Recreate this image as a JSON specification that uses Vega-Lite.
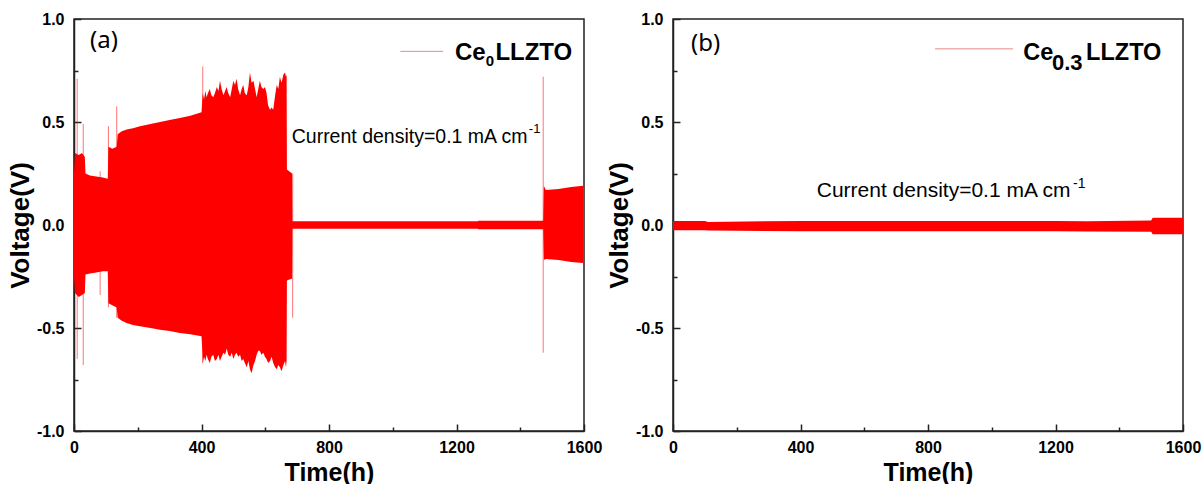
{
  "$schema": "https://vega.github.io/schema/vega-lite/v6.json",
  "background": "white",
  "padding": {"left": 6, "top": 10, "right": 2, "bottom": 0},
  "spacing": 89,
  "bounds": "flush",
  "config": {
    "view": {"stroke": "#222", "strokeWidth": 1.5},
    "axis": {"domainColor": "#222", "domainWidth": 1.5, "tickColor": "#222", "tickWidth": 1.5, "tickSize": -7, "labelFont": "Liberation Sans", "labelFontWeight": "bold", "labelFontSize": 16, "labelColor": "#000", "titleFont": "Liberation Sans", "titleFontWeight": "bold", "titleColor": "#000", "grid": false, "labelFlush": false, "labelOverlap": false},
    "text": {"font": "Liberation Sans", "color": "#000"}
  },
  "hconcat": [
    {
      "width": 510,
      "height": 412,
      "layer": [
        {
          "data": {"values": [
            {"t": 0, "hi": 0.25, "lo": -0.25}, {"t": 3, "hi": 0.35, "lo": -0.33}, {"t": 15, "hi": 0.34, "lo": -0.35}, {"t": 25, "hi": 0.35, "lo": -0.34}, {"t": 34, "hi": 0.33, "lo": -0.33},
            {"t": 36, "hi": 0.25, "lo": -0.24}, {"t": 50, "hi": 0.24, "lo": -0.235}, {"t": 70, "hi": 0.235, "lo": -0.23}, {"t": 90, "hi": 0.23, "lo": -0.225}, {"t": 106, "hi": 0.225, "lo": -0.225},
            {"t": 108, "hi": 0.38, "lo": -0.38}, {"t": 120, "hi": 0.37, "lo": -0.39}, {"t": 134, "hi": 0.38, "lo": -0.40}, {"t": 137, "hi": 0.44, "lo": -0.45}, {"t": 150, "hi": 0.455, "lo": -0.465},
            {"t": 165, "hi": 0.463, "lo": -0.476}, {"t": 185, "hi": 0.47, "lo": -0.485}, {"t": 207, "hi": 0.479, "lo": -0.492}, {"t": 240, "hi": 0.49, "lo": -0.5}, {"t": 270, "hi": 0.5, "lo": -0.508},
            {"t": 300, "hi": 0.51, "lo": -0.515}, {"t": 332, "hi": 0.519, "lo": -0.524}, {"t": 365, "hi": 0.53, "lo": -0.53}, {"t": 400, "hi": 0.547, "lo": -0.54}, {"t": 403, "hi": 0.62, "lo": -0.62},
            {"t": 404, "hi": 0.64, "lo": -0.67}, {"t": 408, "hi": 0.61, "lo": -0.64}, {"t": 412, "hi": 0.65, "lo": -0.66}, {"t": 416, "hi": 0.62, "lo": -0.63}, {"t": 420, "hi": 0.64, "lo": -0.65},
            {"t": 426, "hi": 0.66, "lo": -0.67}, {"t": 431, "hi": 0.63, "lo": -0.64}, {"t": 437, "hi": 0.62, "lo": -0.63}, {"t": 442, "hi": 0.64, "lo": -0.66}, {"t": 448, "hi": 0.67, "lo": -0.65},
            {"t": 453, "hi": 0.65, "lo": -0.63}, {"t": 458, "hi": 0.70, "lo": -0.66}, {"t": 463, "hi": 0.66, "lo": -0.64}, {"t": 469, "hi": 0.63, "lo": -0.62}, {"t": 474, "hi": 0.65, "lo": -0.63},
            {"t": 479, "hi": 0.67, "lo": -0.60}, {"t": 484, "hi": 0.64, "lo": -0.63}, {"t": 490, "hi": 0.62, "lo": -0.64}, {"t": 495, "hi": 0.66, "lo": -0.62}, {"t": 500, "hi": 0.70, "lo": -0.65},
            {"t": 505, "hi": 0.68, "lo": -0.63}, {"t": 510, "hi": 0.71, "lo": -0.62}, {"t": 515, "hi": 0.66, "lo": -0.64}, {"t": 521, "hi": 0.63, "lo": -0.63}, {"t": 526, "hi": 0.66, "lo": -0.66},
            {"t": 531, "hi": 0.68, "lo": -0.65}, {"t": 536, "hi": 0.64, "lo": -0.67}, {"t": 542, "hi": 0.63, "lo": -0.69}, {"t": 547, "hi": 0.67, "lo": -0.66}, {"t": 552, "hi": 0.74, "lo": -0.70},
            {"t": 557, "hi": 0.69, "lo": -0.72}, {"t": 563, "hi": 0.70, "lo": -0.68}, {"t": 568, "hi": 0.66, "lo": -0.66}, {"t": 573, "hi": 0.62, "lo": -0.63}, {"t": 578, "hi": 0.66, "lo": -0.61},
            {"t": 583, "hi": 0.70, "lo": -0.61}, {"t": 588, "hi": 0.67, "lo": -0.63}, {"t": 594, "hi": 0.66, "lo": -0.62}, {"t": 599, "hi": 0.67, "lo": -0.64}, {"t": 604, "hi": 0.64, "lo": -0.65},
            {"t": 609, "hi": 0.58, "lo": -0.67}, {"t": 615, "hi": 0.56, "lo": -0.66}, {"t": 620, "hi": 0.57, "lo": -0.64}, {"t": 625, "hi": 0.56, "lo": -0.67}, {"t": 631, "hi": 0.63, "lo": -0.69},
            {"t": 636, "hi": 0.68, "lo": -0.70}, {"t": 641, "hi": 0.66, "lo": -0.68}, {"t": 646, "hi": 0.72, "lo": -0.69}, {"t": 651, "hi": 0.69, "lo": -0.71}, {"t": 657, "hi": 0.73, "lo": -0.68},
            {"t": 662, "hi": 0.74, "lo": -0.66}, {"t": 665, "hi": 0.72, "lo": -0.69}, {"t": 667, "hi": 0.73, "lo": -0.66}, {"t": 668, "hi": 0.27, "lo": -0.27}, {"t": 684, "hi": 0.25, "lo": -0.26},
            {"t": 685, "hi": 0.018, "lo": -0.018}, {"t": 1267, "hi": 0.018, "lo": -0.018}, {"t": 1268, "hi": 0.021, "lo": -0.021}, {"t": 1472, "hi": 0.021, "lo": -0.021},
            {"t": 1474, "hi": 0.19, "lo": -0.17}, {"t": 1480, "hi": 0.17, "lo": -0.165}, {"t": 1520, "hi": 0.175, "lo": -0.17}, {"t": 1560, "hi": 0.185, "lo": -0.18}, {"t": 1597, "hi": 0.19, "lo": -0.185}
          ]},
          "mark": {"type": "area", "color": "#ff0000"},
          "encoding": {
            "x": {"field": "t", "type": "quantitative", "scale": {"domain": [0, 1600], "nice": false, "zero": false},
              "axis": {"title": "Time(h)", "values": [0, 200, 400, 600, 800, 1000, 1200, 1400, 1600],
                "labelExpr": "datum.value % 400 == 0 ? format(datum.value, 'd') : ''",
                "tickDash": {"condition": {"test": "datum.value % 400 != 0", "value": [4, 20]}, "value": [10, 0]},
                "labelPadding": 15, "titleFontSize": 25, "titlePadding": 5}},
            "y": {"field": "hi", "type": "quantitative", "scale": {"domain": [-1, 1], "nice": false, "zero": false},
              "axis": {"title": "Voltage(V)", "values": [-1, -0.75, -0.5, -0.25, 0, 0.25, 0.5, 0.75, 1],
                "labelExpr": "abs(datum.value * 2 - round(datum.value * 2)) > 0.01 ? '' : (datum.value < 0 ? '-' + format(-datum.value, '.1f') : format(datum.value, '.1f'))",
                "tickDash": {"condition": {"test": "abs(datum.value * 2 - round(datum.value * 2)) > 0.01", "value": [4, 20]}, "value": [10, 0]},
                "labelPadding": 17, "titleFontSize": 26, "titlePadding": 3}},
            "y2": {"field": "lo"}
          }
        },
        {
          "data": {"values": [
            {"t": 10, "top": 0.71, "bot": -0.65}, {"t": 29, "top": 0.49, "bot": -0.68}, {"t": 82, "top": 0.26, "bot": -0.34},
            {"t": 108, "top": 0.48, "bot": -0.40}, {"t": 134, "top": 0.576, "bot": -0.45}, {"t": 404, "top": 0.77, "bot": -0.67},
            {"t": 686, "top": 0.25, "bot": -0.45}, {"t": 1472, "top": 0.72, "bot": -0.62}
          ]},
          "mark": {"type": "rule", "color": "#ff0000", "opacity": 0.55, "strokeWidth": 1},
          "encoding": {
            "x": {"field": "t", "type": "quantitative"},
            "y": {"field": "top", "type": "quantitative"},
            "y2": {"field": "bot"}
          }
        },
        {
          "data": {"values": [{"t": 1024, "v": 0.843}, {"t": 1158, "v": 0.843}]},
          "mark": {"type": "line", "color": "#e58a8a", "strokeWidth": 1},
          "encoding": {
            "x": {"field": "t", "type": "quantitative"},
            "y": {"field": "v", "type": "quantitative"}
          }
        },
        {
          "data": {"values": [{"t": 94, "v": 0.893, "label": "(a)"}]},
          "mark": {"type": "text", "font": "Noto Sans", "fontSize": 24, "align": "center", "baseline": "middle"},
          "encoding": {
            "x": {"field": "t", "type": "quantitative"},
            "y": {"field": "v", "type": "quantitative"},
            "text": {"field": "label"}
          }
        },
        {
          "data": {"values": [{"t": 1195, "v": 0.801, "label": "Ce"}, {"t": 1322, "v": 0.801, "label": "LLZTO"}]},
          "mark": {"type": "text", "fontSize": 24, "fontWeight": "bold", "align": "left", "baseline": "alphabetic"},
          "encoding": {
            "x": {"field": "t", "type": "quantitative"},
            "y": {"field": "v", "type": "quantitative"},
            "text": {"field": "label"}
          }
        },
        {
          "data": {"values": [{"t": 1292, "v": 0.772, "label": "0"}]},
          "mark": {"type": "text", "fontSize": 15, "fontWeight": "bold", "align": "left", "baseline": "alphabetic"},
          "encoding": {
            "x": {"field": "t", "type": "quantitative"},
            "y": {"field": "v", "type": "quantitative"},
            "text": {"field": "label"}
          }
        },
        {
          "data": {"values": [{"t": 683, "v": 0.398, "label": "Current density=0.1 mA cm"}]},
          "mark": {"type": "text", "fontSize": 19.5, "align": "left", "baseline": "alphabetic"},
          "encoding": {
            "x": {"field": "t", "type": "quantitative"},
            "y": {"field": "v", "type": "quantitative"},
            "text": {"field": "label"}
          }
        },
        {
          "data": {"values": [{"t": 1427, "v": 0.447, "label": "-1"}]},
          "mark": {"type": "text", "fontSize": 13, "align": "left", "baseline": "alphabetic"},
          "encoding": {
            "x": {"field": "t", "type": "quantitative"},
            "y": {"field": "v", "type": "quantitative"},
            "text": {"field": "label"}
          }
        }
      ]
    },
    {
      "width": 510,
      "height": 412,
      "layer": [
        {
          "data": {"values": [
            {"t": 0, "hi": 0.02, "lo": -0.025}, {"t": 100, "hi": 0.02, "lo": -0.025}, {"t": 110, "hi": 0.015, "lo": -0.027},
            {"t": 400, "hi": 0.02, "lo": -0.03}, {"t": 800, "hi": 0.02, "lo": -0.03}, {"t": 1200, "hi": 0.02, "lo": -0.03},
            {"t": 1300, "hi": 0.018, "lo": -0.032}, {"t": 1500, "hi": 0.022, "lo": -0.033}, {"t": 1505, "hi": 0.035, "lo": -0.045}, {"t": 1600, "hi": 0.035, "lo": -0.045}
          ]},
          "mark": {"type": "area", "color": "#ff0000"},
          "encoding": {
            "x": {"field": "t", "type": "quantitative", "scale": {"domain": [0, 1600], "nice": false, "zero": false},
              "axis": {"title": "Time(h)", "values": [0, 200, 400, 600, 800, 1000, 1200, 1400, 1600],
                "labelExpr": "datum.value % 400 == 0 ? format(datum.value, 'd') : ''",
                "tickDash": {"condition": {"test": "datum.value % 400 != 0", "value": [4, 20]}, "value": [10, 0]},
                "labelPadding": 15, "titleFontSize": 25, "titlePadding": 5}},
            "y": {"field": "hi", "type": "quantitative", "scale": {"domain": [-1, 1], "nice": false, "zero": false},
              "axis": {"title": "Voltage(V)", "values": [-1, -0.75, -0.5, -0.25, 0, 0.25, 0.5, 0.75, 1],
                "labelExpr": "abs(datum.value * 2 - round(datum.value * 2)) > 0.01 ? '' : (datum.value < 0 ? '-' + format(-datum.value, '.1f') : format(datum.value, '.1f'))",
                "tickDash": {"condition": {"test": "abs(datum.value * 2 - round(datum.value * 2)) > 0.01", "value": [4, 20]}, "value": [10, 0]},
                "labelPadding": 17, "titleFontSize": 26, "titlePadding": 3}},
            "y2": {"field": "lo"}
          }
        },
        {
          "data": {"values": [{"t": 822, "v": 0.855}, {"t": 1067, "v": 0.855}]},
          "mark": {"type": "line", "color": "#e58a8a", "strokeWidth": 1},
          "encoding": {
            "x": {"field": "t", "type": "quantitative"},
            "y": {"field": "v", "type": "quantitative"}
          }
        },
        {
          "data": {"values": [{"t": 102, "v": 0.878, "label": "(b)"}]},
          "mark": {"type": "text", "font": "Noto Sans", "fontSize": 24, "align": "center", "baseline": "middle"},
          "encoding": {
            "x": {"field": "t", "type": "quantitative"},
            "y": {"field": "v", "type": "quantitative"},
            "text": {"field": "label"}
          }
        },
        {
          "data": {"values": [{"t": 1099, "v": 0.80, "label": "Ce"}, {"t": 1296, "v": 0.80, "label": "LLZTO"}]},
          "mark": {"type": "text", "fontSize": 23.5, "fontWeight": "bold", "align": "left", "baseline": "alphabetic"},
          "encoding": {
            "x": {"field": "t", "type": "quantitative"},
            "y": {"field": "v", "type": "quantitative"},
            "text": {"field": "label"}
          }
        },
        {
          "data": {"values": [{"t": 1189, "v": 0.753, "label": "0.3"}]},
          "mark": {"type": "text", "fontSize": 22, "fontWeight": "bold", "align": "left", "baseline": "alphabetic"},
          "encoding": {
            "x": {"field": "t", "type": "quantitative"},
            "y": {"field": "v", "type": "quantitative"},
            "text": {"field": "label"}
          }
        },
        {
          "data": {"values": [{"t": 451, "v": 0.135, "label": "Current density=0.1 mA cm"}]},
          "mark": {"type": "text", "fontSize": 21, "align": "left", "baseline": "alphabetic"},
          "encoding": {
            "x": {"field": "t", "type": "quantitative"},
            "y": {"field": "v", "type": "quantitative"},
            "text": {"field": "label"}
          }
        },
        {
          "data": {"values": [{"t": 1255, "v": 0.178, "label": "-1"}]},
          "mark": {"type": "text", "fontSize": 14, "align": "left", "baseline": "alphabetic"},
          "encoding": {
            "x": {"field": "t", "type": "quantitative"},
            "y": {"field": "v", "type": "quantitative"},
            "text": {"field": "label"}
          }
        }
      ]
    }
  ]
}
